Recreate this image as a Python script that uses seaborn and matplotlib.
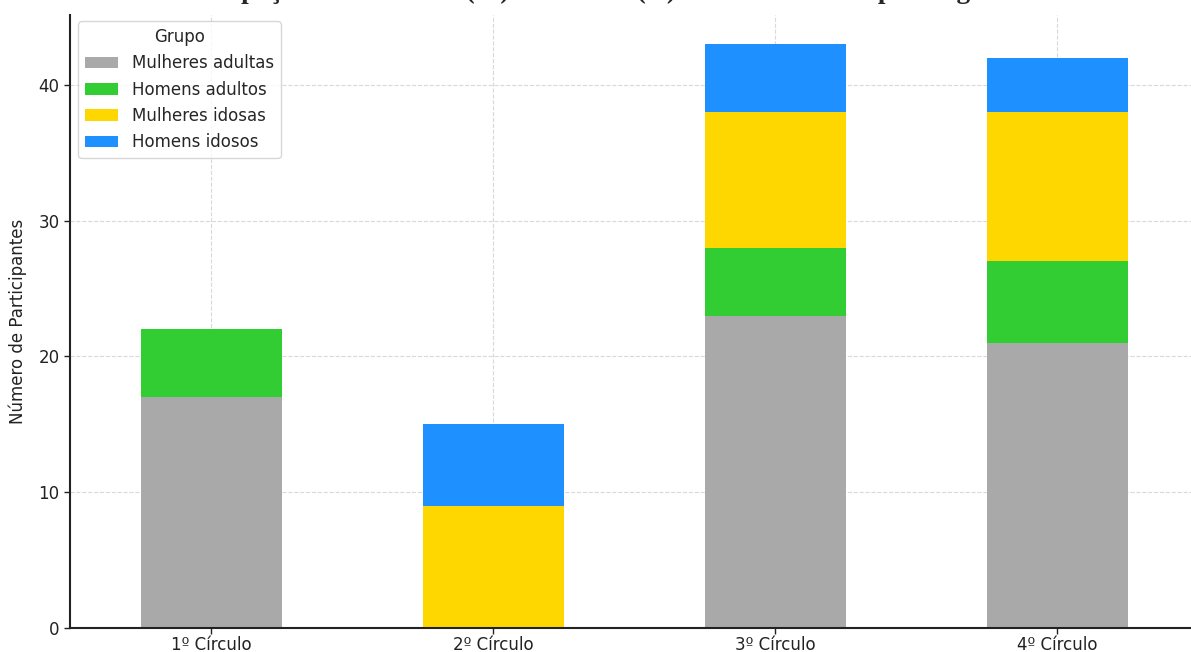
import numpy as np
import pandas as pd
import matplotlib
matplotlib.use('Agg')
import matplotlib.pyplot as plt
import seaborn as sns

# data
circulos = ['1º Círculo', '2º Círculo', '3º Círculo', '4º Círculo']
grupos = ['Mulheres adultas', 'Homens adultos', 'Mulheres idosas', 'Homens idosos']
mulheres_adultas = [17, 0, 23, 21]
homens_adultos = [5, 0, 5, 6]
mulheres_idosas = [0, 9, 10, 11]
homens_idosos = [0, 6, 5, 4]
cores = ['#A9A9A9', '#32CD32', '#FFD700', '#1E90FF']
titulo = 'Participação de Mulheres (M) e Homens (H) Adultos e Idosos por Região'

df = pd.DataFrame({'Círculo': circulos,
                   'Mulheres adultas': mulheres_adultas,
                   'Homens adultos': homens_adultos,
                   'Mulheres idosas': mulheres_idosas,
                   'Homens idosos': homens_idosos})
# cumulative heights for the stacked look
cum = df[grupos].cumsum(axis=1)
cum['Círculo'] = df['Círculo']

sns.set_style('whitegrid', {'grid.linestyle': '--', 'grid.color': '#d9d9d9',
                            'axes.edgecolor': '#222222',
                            'xtick.bottom': True, 'ytick.left': True})
plt.rcParams['font.family'] = ['DejaVu Sans']

fig = plt.figure(figsize=(11.91, 6.52), dpi=100)
ax = fig.add_axes([70 / 1191, 24 / 652, 1128 / 1191, 613 / 652])

# draw tallest first, then the lower segments on top
for grp, cor in zip(grupos[::-1], cores[::-1]):
    sns.barplot(data=cum, x='Círculo', y=grp, color=cor, saturation=1,
                width=0.5, label=grp, ax=ax, zorder=2, linewidth=0)

ax.set_xlim(-0.5, 3.5)
ax.set_ylim(0, 45.15)
ax.set_yticks([0, 10, 20, 30, 40])
ax.set_xlabel('')
ax.set_ylabel('Número de Participantes', fontsize=12, color='#222222', labelpad=8)
ax.tick_params(axis='both', labelsize=12, colors='#222222', length=4, width=1)
ax.tick_params(axis='x', pad=1.5)
for s in ['top', 'right']:
    ax.spines[s].set_visible(False)
for s in ['left', 'bottom']:
    ax.spines[s].set_linewidth(1.5)
ax.grid(True, linestyle='--', color='#d9d9d9', linewidth=0.8)
ax.set_axisbelow(True)

handles, labels = ax.get_legend_handles_labels()
handles, labels = handles[::-1], labels[::-1]
ax.legend(handles, labels, title='Grupo', loc='upper left', fontsize=12,
          title_fontsize=12, labelspacing=0.5, frameon=True,
          borderaxespad=0.3, bbox_to_anchor=(0.003, 0.998))

# title sits mostly above the visible area, as in the reference
fig.text(0.49, 1.003, titulo, ha='center', va='baseline',
         fontsize=19.5, fontweight='bold', family='Liberation Serif')

fig.savefig('out.png', dpi=100)
